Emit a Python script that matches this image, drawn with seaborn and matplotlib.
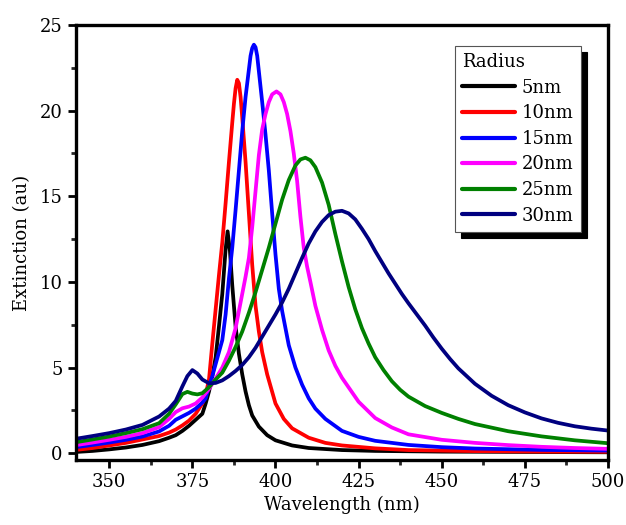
import pandas as pd
import numpy as np
import matplotlib
matplotlib.use("Agg")
import matplotlib.pyplot as plt
import seaborn as sns

# Extinction spectra, one series per radius
wl_5 = [340, 345, 350, 355, 360, 365, 368, 370, 372, 374, 376, 378, 379, 380, 381, 382, 383,
        384, 384.5, 385, 385.6, 386.3, 387, 388, 389, 390, 391, 392, 393, 395, 397.5, 400,
        405, 410, 420, 430, 450, 475, 500]
ext_5 = [0.07, 0.13, 0.22, 0.33, 0.48, 0.7, 0.9, 1.05, 1.3, 1.6, 1.95, 2.3, 2.9, 3.6, 4.5, 5.6, 7.4,
         9.3, 10.6, 11.9, 12.95, 11.8, 9.8, 7.4, 5.8, 4.6, 3.6, 2.8, 2.2, 1.55, 1.05, 0.75,
         0.45, 0.3, 0.18, 0.13, 0.09, 0.07, 0.05]

wl_10 = [340, 345, 350, 355, 360, 365, 368, 370, 372, 374, 376, 378, 379, 380, 381, 382, 383,
         384, 385, 386, 387, 387.5, 388, 388.5, 389, 389.5, 390, 391, 392, 393, 394, 395, 396,
         397.5, 400, 402.5, 405, 410, 415, 420, 430, 440, 460, 480, 500]
ext_10 = [0.19, 0.3, 0.45, 0.6, 0.8, 1.0, 1.2, 1.38, 1.62, 1.9, 2.3, 2.9, 3.4, 4.3, 6.4, 8.4, 10.4,
          12.3, 14.6, 17.0, 19.3, 20.4, 21.3, 21.8, 21.6, 20.8, 19.6, 17.0, 14.0, 11.0, 8.6, 7.1, 5.9,
          4.6, 2.9, 2.0, 1.45, 0.9, 0.6, 0.45, 0.28, 0.18, 0.12, 0.09, 0.08]

wl_15 = [340, 345, 350, 355, 360, 365, 368, 370, 372, 374, 376, 378, 379, 380, 381, 382, 383,
         384, 385, 386, 387, 388, 389, 390, 391, 392, 392.5, 393, 393.5, 394, 394.5, 395, 396,
         397, 398, 399, 400, 401, 402, 404, 406, 408, 410, 412, 415, 420, 425, 430, 440, 450,
         460, 480, 500]
ext_15 = [0.35, 0.48, 0.62, 0.78, 0.97, 1.27, 1.6, 1.95, 2.15, 2.35, 2.6, 2.95, 3.2, 3.9, 4.5, 5.2, 5.9,
          6.6, 8.1, 10.2, 12.0, 14.2, 16.5, 18.8, 20.8, 22.4, 23.2, 23.65, 23.85, 23.7, 23.2, 22.3, 20.5,
          18.6, 16.5, 14.0, 11.6, 9.6, 8.3, 6.3, 5.0, 4.0, 3.2, 2.6, 2.0, 1.3, 0.95, 0.72, 0.48, 0.35,
          0.27, 0.19, 0.15]

wl_20 = [340, 345, 350, 355, 360, 365, 368, 370, 372, 374, 376, 378, 380, 382, 384, 386, 388,
         390, 391, 392, 393, 394, 395, 396, 397, 398, 399, 400.3, 401.5, 402.5, 403.5, 404.5,
         405.5, 406.5, 407.5, 408.5, 409.5, 410.5, 412, 414, 416, 418, 420, 425, 430, 435, 440,
         450, 460, 470, 480, 490, 500]
ext_20 = [0.47, 0.62, 0.78, 0.95, 1.17, 1.52, 2.0, 2.4, 2.62, 2.72, 2.9, 3.25, 3.75, 4.35, 5.0, 5.9, 7.3,
          9.3, 10.3, 11.4, 13.2, 15.3, 17.4, 18.9, 19.8, 20.5, 20.95, 21.12, 20.95, 20.5, 19.8, 18.8,
          17.5, 15.9, 13.8, 12.0, 10.9, 10.0, 8.6, 7.2, 6.0, 5.1, 4.4, 3.0, 2.05, 1.5, 1.1,
          0.78, 0.6, 0.47, 0.37, 0.3, 0.25]

wl_25 = [340, 345, 350, 355, 360, 365, 368, 370, 372, 373.5, 375, 376.5, 378, 380, 382, 384, 386,
         388, 390, 392, 394, 396, 398, 400, 402, 404, 406, 407.5, 409, 410.5, 412, 414, 416, 418,
         420, 422, 424, 426, 428, 430, 432.5, 435, 437.5, 440, 445, 450, 455, 460, 470, 480, 490,
         500]
ext_25 = [0.64, 0.8, 0.97, 1.17, 1.4, 1.75, 2.3, 2.85, 3.45, 3.58, 3.48, 3.43, 3.5, 3.85, 4.3, 4.7, 5.4,
          6.2, 7.1, 8.2, 9.4, 10.7, 12.0, 13.4, 14.8, 15.95, 16.8, 17.15, 17.25, 17.1, 16.7, 15.8, 14.5, 12.8,
          11.2, 9.7, 8.4, 7.3, 6.4, 5.6, 4.85, 4.2, 3.7, 3.3, 2.75, 2.35, 2.0, 1.7, 1.28, 0.98, 0.75,
          0.58]

wl_30 = [340, 345, 350, 355, 360, 365, 368, 370, 372, 373.5, 375, 376.5, 378, 380, 382, 384, 386,
         388, 390, 392, 394, 396, 398, 400, 402, 404, 406, 408, 410, 412, 414, 416, 418, 420, 422,
         424, 426, 428, 430, 432, 434, 436, 438, 440, 442.5, 445, 447.5, 450, 452.5, 455, 460,
         465, 470, 475, 480, 485, 490, 495, 500]
ext_30 = [0.84, 1.0, 1.17, 1.38, 1.65, 2.14, 2.6, 3.05, 3.9, 4.5, 4.85, 4.65, 4.3, 4.08, 4.1, 4.25, 4.5,
          4.8, 5.15, 5.6, 6.15, 6.8, 7.45, 8.1, 8.8, 9.6, 10.5, 11.4, 12.25, 12.95, 13.5, 13.9, 14.1, 14.15, 14.0,
          13.65, 13.1, 12.5, 11.8, 11.15, 10.5, 9.9, 9.3, 8.75, 8.1, 7.45, 6.75, 6.1, 5.5, 4.95, 4.05,
          3.35, 2.8, 2.38, 2.03, 1.77, 1.57, 1.43, 1.32]

radius_labels = ["5nm", "10nm", "15nm", "20nm", "25nm", "30nm"]
colors = ["black", "red", "blue", "magenta", "green", "navy"]
series = [(wl_5, ext_5), (wl_10, ext_10), (wl_15, ext_15),
          (wl_20, ext_20), (wl_25, ext_25), (wl_30, ext_30)]

sns.set_style("ticks")
plt.rcParams["font.family"] = ["DejaVu Serif"]
plt.rcParams["text.color"] = "black"
plt.rcParams["axes.labelcolor"] = "black"

fig = plt.figure(figsize=(6.26, 5.25), dpi=100)
ax = fig.add_axes([0.1214, 0.1238, 0.8498, 0.8286])

for (wl, ext), lab, col in zip(series, radius_labels, colors):
    df = pd.DataFrame({"Wavelength": wl, "Extinction": ext})
    sns.lineplot(data=df, x="Wavelength", y="Extinction", color=col, linewidth=2.7,
                 label=lab, ax=ax, estimator=None, sort=False,
                 solid_joinstyle="round", solid_capstyle="round")

ax.set_xlim(340, 500)
ax.set_ylim(-0.4, 25)
ax.set_xticks(np.arange(350, 501, 25))
ax.set_xticks(np.arange(362.5, 500, 25), minor=True)
ax.set_yticks(np.arange(0, 26, 5))
ax.set_yticks(np.arange(2.5, 25, 5), minor=True)
ax.tick_params(which="major", direction="out", length=6, width=2, labelsize=13,
               top=False, right=False, colors="black")
ax.tick_params(which="minor", direction="out", length=3.5, width=2, top=False, right=False)
for sp in ax.spines.values():
    sp.set_linewidth(2.4)
    sp.set_color("black")

ax.set_xlabel("Wavelength (nm)", fontsize=13, labelpad=3)
ax.set_ylabel("Extinction (au)", fontsize=13, labelpad=6)

leg = ax.legend(title="Radius", loc="upper right", bbox_to_anchor=(0.949, 0.952),
                borderaxespad=0, fontsize=13, title_fontsize=13, alignment="left",
                handlelength=2.9, handletextpad=0.4, labelspacing=0.42,
                fancybox=False, edgecolor="#555555", framealpha=1,
                shadow={"ox": 4.5, "oy": -4.5, "color": "black", "alpha": 1})
leg.get_frame().set_linewidth(0.8)
for line in leg.get_lines():
    line.set_linewidth(3)

fig.savefig("out.png", dpi=100)
